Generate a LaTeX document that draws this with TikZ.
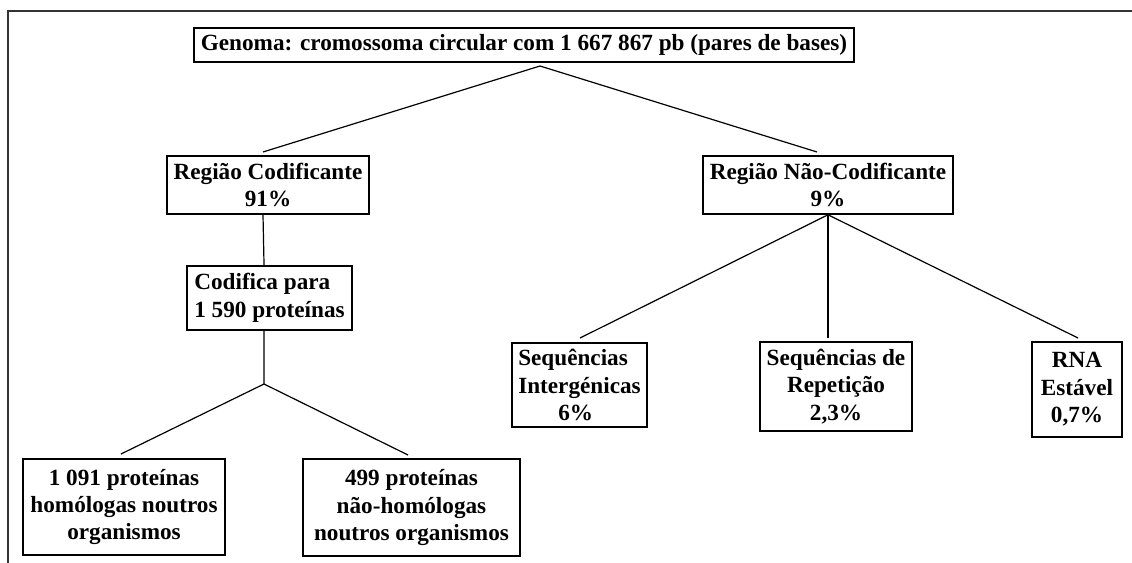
\documentclass[tikz,border=0pt]{standalone}
\usepackage{fontspec}
\setmainfont{Liberation Serif}
\begin{document}
\begin{tikzpicture}[x=0.75pt,y=-0.75pt,
  box/.style={draw=black, line width=1.2pt, inner sep=0pt, align=center,
    font=\bfseries\fontsize{17.4}{20.6}\selectfont},
  conn/.style={line width=0.9pt, draw=black}]
\useasboundingbox (0,0) rectangle (1132,563);
% frame
\draw[line width=1.4pt, draw=black!80] (1132,11) -- (8,11) -- (8,563);
% boxes
\node[box, minimum width=495pt, minimum height=25.5pt] (gen) at (524,45)
  {Genoma: cromossoma circular com 1 667 867 pb (pares de bases)};
\node[box, minimum width=151.5pt, minimum height=43.5pt] (cod) at (268,185)
  {Região Codificante\\91\%};
\node[box, minimum width=187.5pt, minimum height=43.5pt] (ncod) at (828,185)
  {Região Não-Codificante\\9\%};
\node[box, align=left, minimum width=123.75pt, minimum height=48pt] (codif) at (269.5,298)
  {Codifica para\\1 590 proteínas};
\node[box, minimum width=151.5pt, minimum height=72pt] (hom) at (124,507)
  {1 091 proteínas\\homólogas noutros\\organismos};
\node[box, minimum width=162.75pt, minimum height=72.75pt] (nhom) at (411.5,507.5)
  {499 proteínas\\não-homólogas\\noutros organismos};
\node[box, align=left, minimum width=101.25pt, minimum height=63pt] (inter) at (579.5,385)
  {Sequências\\Intergénicas\\\hspace*{30pt}6\%};
\node[box, minimum width=114pt, minimum height=66.75pt] (rep) at (836,386.5)
  {Sequências de\\Repetição\\2,3\%};
\node[box, minimum width=67.5pt, minimum height=71.25pt] (rna) at (1077,389.5)
  {RNA\\Estável\\0,7\%};
% connector points
\coordinate (gt) at (540,66);
\coordinate (codtop) at (263,152);
\coordinate (ncodtop) at (817,152);
\coordinate (cs) at (264,384);
\coordinate (homtop) at (121,454);
\coordinate (nhomtop) at (408,455);
\coordinate (intertop) at (580,338);
\coordinate (reptop) at (828,338);
\coordinate (rnatop) at (1078,338);
% connectors
\draw[conn] (codtop) -- (gt) -- (ncodtop);
\draw[conn] ([xshift=-3.75pt]cod.south) -- ([xshift=-4.1pt]codif.north);
\draw[conn] ([xshift=-4.1pt]codif.south) -- (cs);
\draw[conn] (homtop) -- (cs) -- (nhomtop);
\draw[conn] (ncod.south) -- (intertop);
\draw[conn] (ncod.south) -- (reptop);
\draw[conn] (ncod.south) -- (rnatop);
\end{tikzpicture}
\end{document}
